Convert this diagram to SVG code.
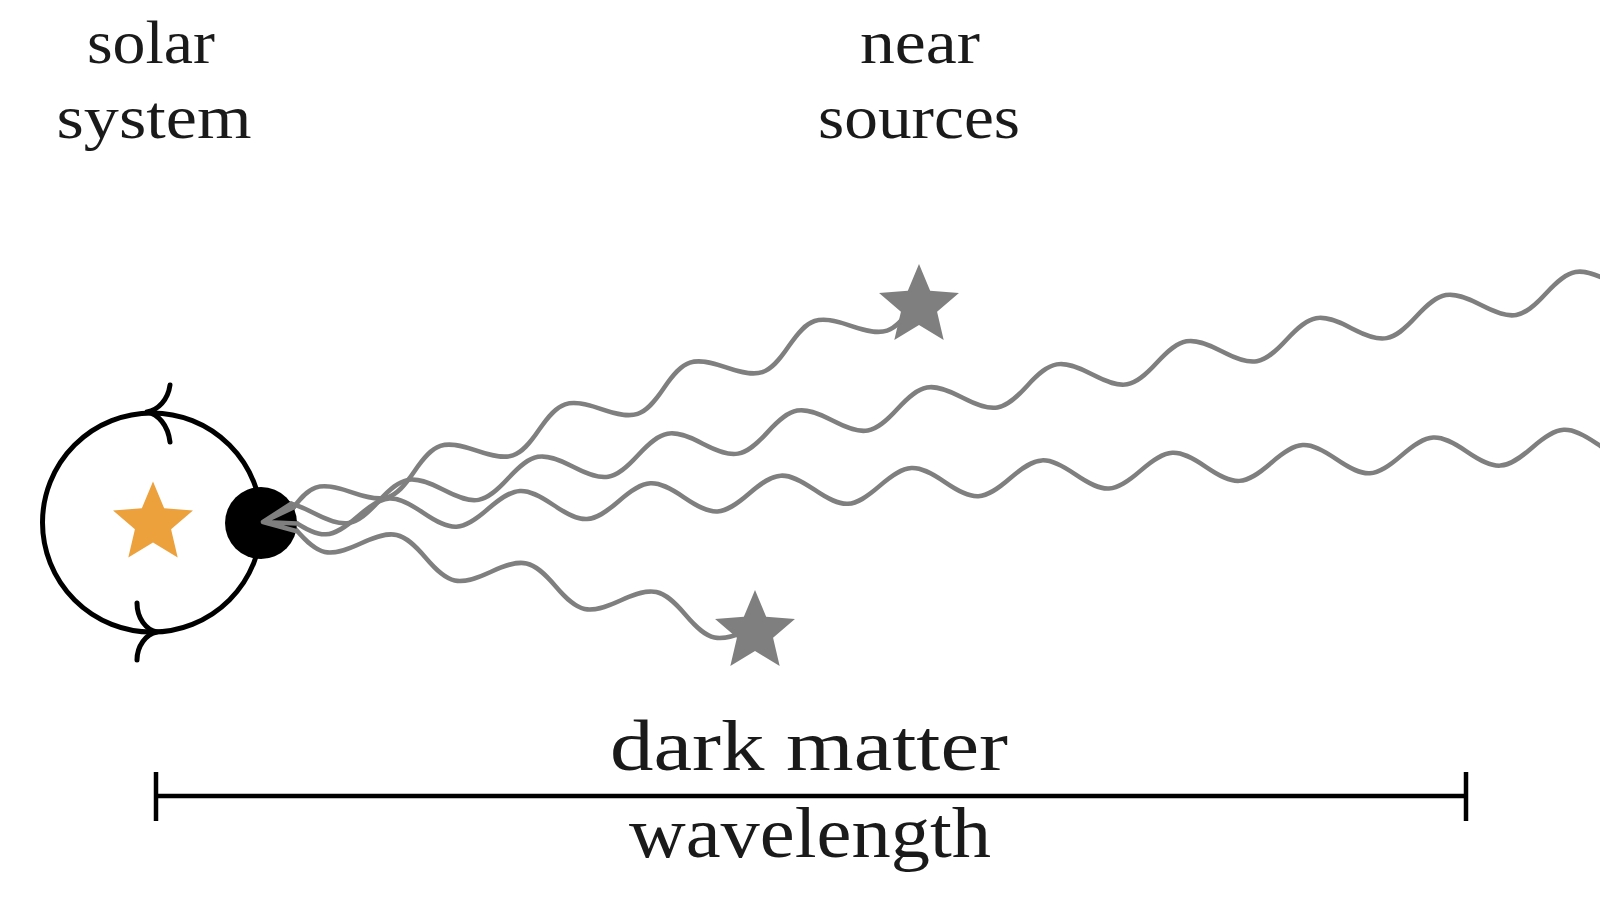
<svg xmlns="http://www.w3.org/2000/svg" xmlns:xlink="http://www.w3.org/1999/xlink" width="1600" height="900" viewBox="0 0 1600 900">
<style>
.lbl{font-family:"Liberation Serif","Times New Roman",serif;fill:#1a1a1a;text-anchor:middle}
.top{font-size:62px}
.big{font-size:72px}
.wave{fill:none;stroke:#7f7f7f;stroke-width:4.5;stroke-linecap:round;stroke-linejoin:round}
.blk{fill:none;stroke:#000;stroke-width:5;stroke-linecap:round}
</style>
<defs>
<polygon id="star" points="0,-42 11.17,-15.37 39.94,-12.98 18.07,5.87 24.69,33.98 0,19 -24.69,33.98 -18.07,5.87 -39.94,-12.98 -11.17,-15.37"/>
</defs>
<rect width="1600" height="900" fill="#fff"/>

<g id="solar-system">
<circle cx="152" cy="522.5" r="109.5" class="blk"/>
<path class="blk" d="M147,412 C158,410 168,400 170,385 M147,412 C158,414 168,425 170,442"/>
<path class="blk" d="M157,632 C146,630 137,618 137,603 M157,632 C146,634 137,646 137,660"/>
<use xlink:href="#star" href="#star" transform="translate(153,523.5)" fill="#eca13c"/>
</g>

<g id="waves">
<path class="wave" transform="translate(263,522) rotate(-18.46)" d="M28,0 c27.9,-21.33 37.85,-21.33 65.75,0 s37.85,21.33 65.75,0 s37.85,-21.33 65.75,0 s37.85,21.33 65.75,0 s37.85,-21.33 65.75,0 s37.85,21.33 65.75,0 s37.85,-21.33 65.75,0 s37.85,21.33 65.75,0 s37.85,-21.33 65.75,0 s37.85,21.33 65.75,0 L691.6,0"/>
<path class="wave" transform="translate(263,522) rotate(-10.1)" d="M-14.4,0 c27.96,-21.33 37.92,-21.33 65.875,0 s37.92,21.33 65.875,0 s37.92,-21.33 65.875,0 s37.92,21.33 65.875,0 s37.92,-21.33 65.875,0 s37.92,21.33 65.875,0 s37.92,-21.33 65.875,0 s37.92,21.33 65.875,0 s37.92,-21.33 65.875,0 s37.92,21.33 65.875,0 s37.92,-21.33 65.875,0 s37.92,21.33 65.875,0 s37.92,-21.33 65.875,0 s37.92,21.33 65.875,0 s37.92,-21.33 65.875,0 s37.92,21.33 65.875,0 s37.92,-21.33 65.875,0 s37.92,21.33 65.875,0 s37.92,-21.33 65.875,0 s37.92,21.33 65.875,0 s37.92,-21.33 65.875,0 s37.92,21.33 65.875,0"/>
<path class="wave" transform="translate(263,522) rotate(-3.35)" d="M29.55,0 c27.73,21.33 37.62,21.33 65.35,0 s37.62,-21.33 65.35,0 s37.62,21.33 65.35,0 s37.62,-21.33 65.35,0 s37.62,21.33 65.35,0 s37.62,-21.33 65.35,0 s37.62,21.33 65.35,0 s37.62,-21.33 65.35,0 s37.62,21.33 65.35,0 s37.62,-21.33 65.35,0 s37.62,21.33 65.35,0 s37.62,-21.33 65.35,0 s37.62,21.33 65.35,0 s37.62,-21.33 65.35,0 s37.62,21.33 65.35,0 s37.62,-21.33 65.35,0 s37.62,21.33 65.35,0 s37.62,-21.33 65.35,0 s37.62,21.33 65.35,0 s37.62,-21.33 65.35,0 s37.62,21.33 65.35,0 s37.62,-21.33 65.35,0"/>
<path class="wave" transform="translate(263,522) rotate(12.38)" d="M33.5,0 c28.22,21.33 38.28,21.33 66.5,0 s38.28,-21.33 66.5,0 s38.28,21.33 66.5,0 s38.28,-21.33 66.5,0 s38.28,21.33 66.5,0 s38.28,-21.33 66.5,0 s38.28,21.33 66.5,0 L503.7,0"/>
</g>

<g id="earth">
<circle cx="261" cy="523" r="36" fill="#000"/>
<path class="wave" d="M263,522 L293.5,507.5 M263,522 L291.2,503.6 M263,522 L297,523.4 M263,522 L296,531"/>
</g>

<g id="star-near">
<use xlink:href="#star" href="#star" transform="translate(919,306)" fill="#7f7f7f"/>
</g>
<g id="star-low">
<use xlink:href="#star" href="#star" transform="translate(755,632)" fill="#7f7f7f"/>
</g>

<g id="label-solar">
<text class="lbl top" x="151" y="63" textLength="128" lengthAdjust="spacingAndGlyphs">solar</text>
<text class="lbl top" x="154" y="138" textLength="195" lengthAdjust="spacingAndGlyphs">system</text>
</g>
<g id="label-near">
<text class="lbl top" x="920" y="63" textLength="120" lengthAdjust="spacingAndGlyphs">near</text>
<text class="lbl top" x="919" y="138" textLength="202" lengthAdjust="spacingAndGlyphs">sources</text>
</g>

<g id="ruler">
<line x1="156" y1="796" x2="1466" y2="796" stroke="#000" stroke-width="4.5"/>
<line x1="156" y1="772" x2="156" y2="821" stroke="#000" stroke-width="4.5"/>
<line x1="1466" y1="772" x2="1466" y2="821" stroke="#000" stroke-width="4.5"/>
<text class="lbl big" x="809" y="770" textLength="398" lengthAdjust="spacingAndGlyphs">dark matter</text>
<text class="lbl big" x="810" y="857" textLength="362" lengthAdjust="spacingAndGlyphs">wavelength</text>
</g>
</svg>
